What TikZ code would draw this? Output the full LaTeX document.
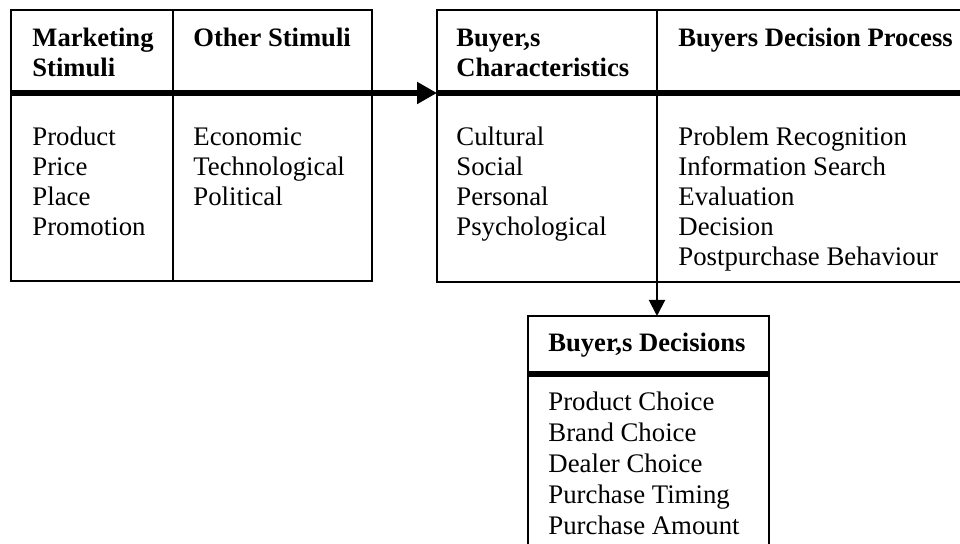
\documentclass[tikz,border=0pt]{standalone}
\usepackage{fontspec}
\setmainfont{Liberation Serif}
\usetikzlibrary{arrows.meta}
\begin{document}
\begin{tikzpicture}[x=0.5pt,y=-0.5pt,
  boxline/.style={line width=1pt},
  thickline/.style={line width=2.8pt},
  hd/.style={anchor=base west,inner sep=0pt,align=left,font=\fontsize{13.3}{15}\selectfont\bfseries},
  bd/.style={anchor=base west,inner sep=0pt,align=left,font=\fontsize{13.4}{15}\selectfont},
  bdw/.style={bd,font=\fontsize{13.4}{15.5}\selectfont}
]
\useasboundingbox (0,0) rectangle (960,544);
% ---- left box
\draw[boxline] (11,10) rectangle (372,281);
\draw[boxline] (173,10) -- (173,281);
\draw[thickline] (11,93) -- (372,93);
\coordinate (Le) at (372,93);
% (multi-line nodes: base = baseline of last line)
\node[hd] (mk) at (32,77) {Marketing\\Stimuli};
\node[hd] (os) at (193,47) {Other Stimuli};
\node[bd] (mkb) at (32,236) {Product\\Price\\Place\\Promotion};
\node[bd] (osb) at (193,206) {Economic\\Technological\\Political};
% ---- right box
\draw[boxline] (962,10) -- (437,10) -- (437,282) -- (962,282);
\draw[boxline] (657,10) -- (657,282);
\draw[thickline] (437,93) -- (962,93);
\coordinate (Rw) at (437,93);
\coordinate (Rs) at (657,282);
\node[hd] (bc) at (456,77) {Buyer,s\\Characteristics};
\node[hd] (bdp) at (678,47) {Buyers Decision Process};
\node[bd] (bcb) at (456,236) {Cultural\\Social\\Personal\\Psychological};
\node[bd] (bdpb) at (678,266) {Problem Recognition\\Information Search\\Evaluation\\Decision\\Postpurchase Behaviour};
% ---- bottom box
\draw[boxline] (528,546) -- (528,316) -- (769,316) -- (769,546);
\draw[thickline] (528,374) -- (769,374);
\coordinate (Dn) at (657,316);
\node[hd] (bdh) at (548,352) {Buyer,s Decisions};
\node[bdw] (bdb) at (548,535) {Product Choice\\Brand Choice\\Dealer Choice\\Purchase Timing\\Purchase Amount};
% ---- connectors
\draw[thickline,-{Triangle[length=10pt,width=10.5pt]}] (Le) -- (Rw);
\draw[boxline,-{Triangle[length=8pt,width=8pt]}] (Rs) -- (Dn);
\end{tikzpicture}
\end{document}
